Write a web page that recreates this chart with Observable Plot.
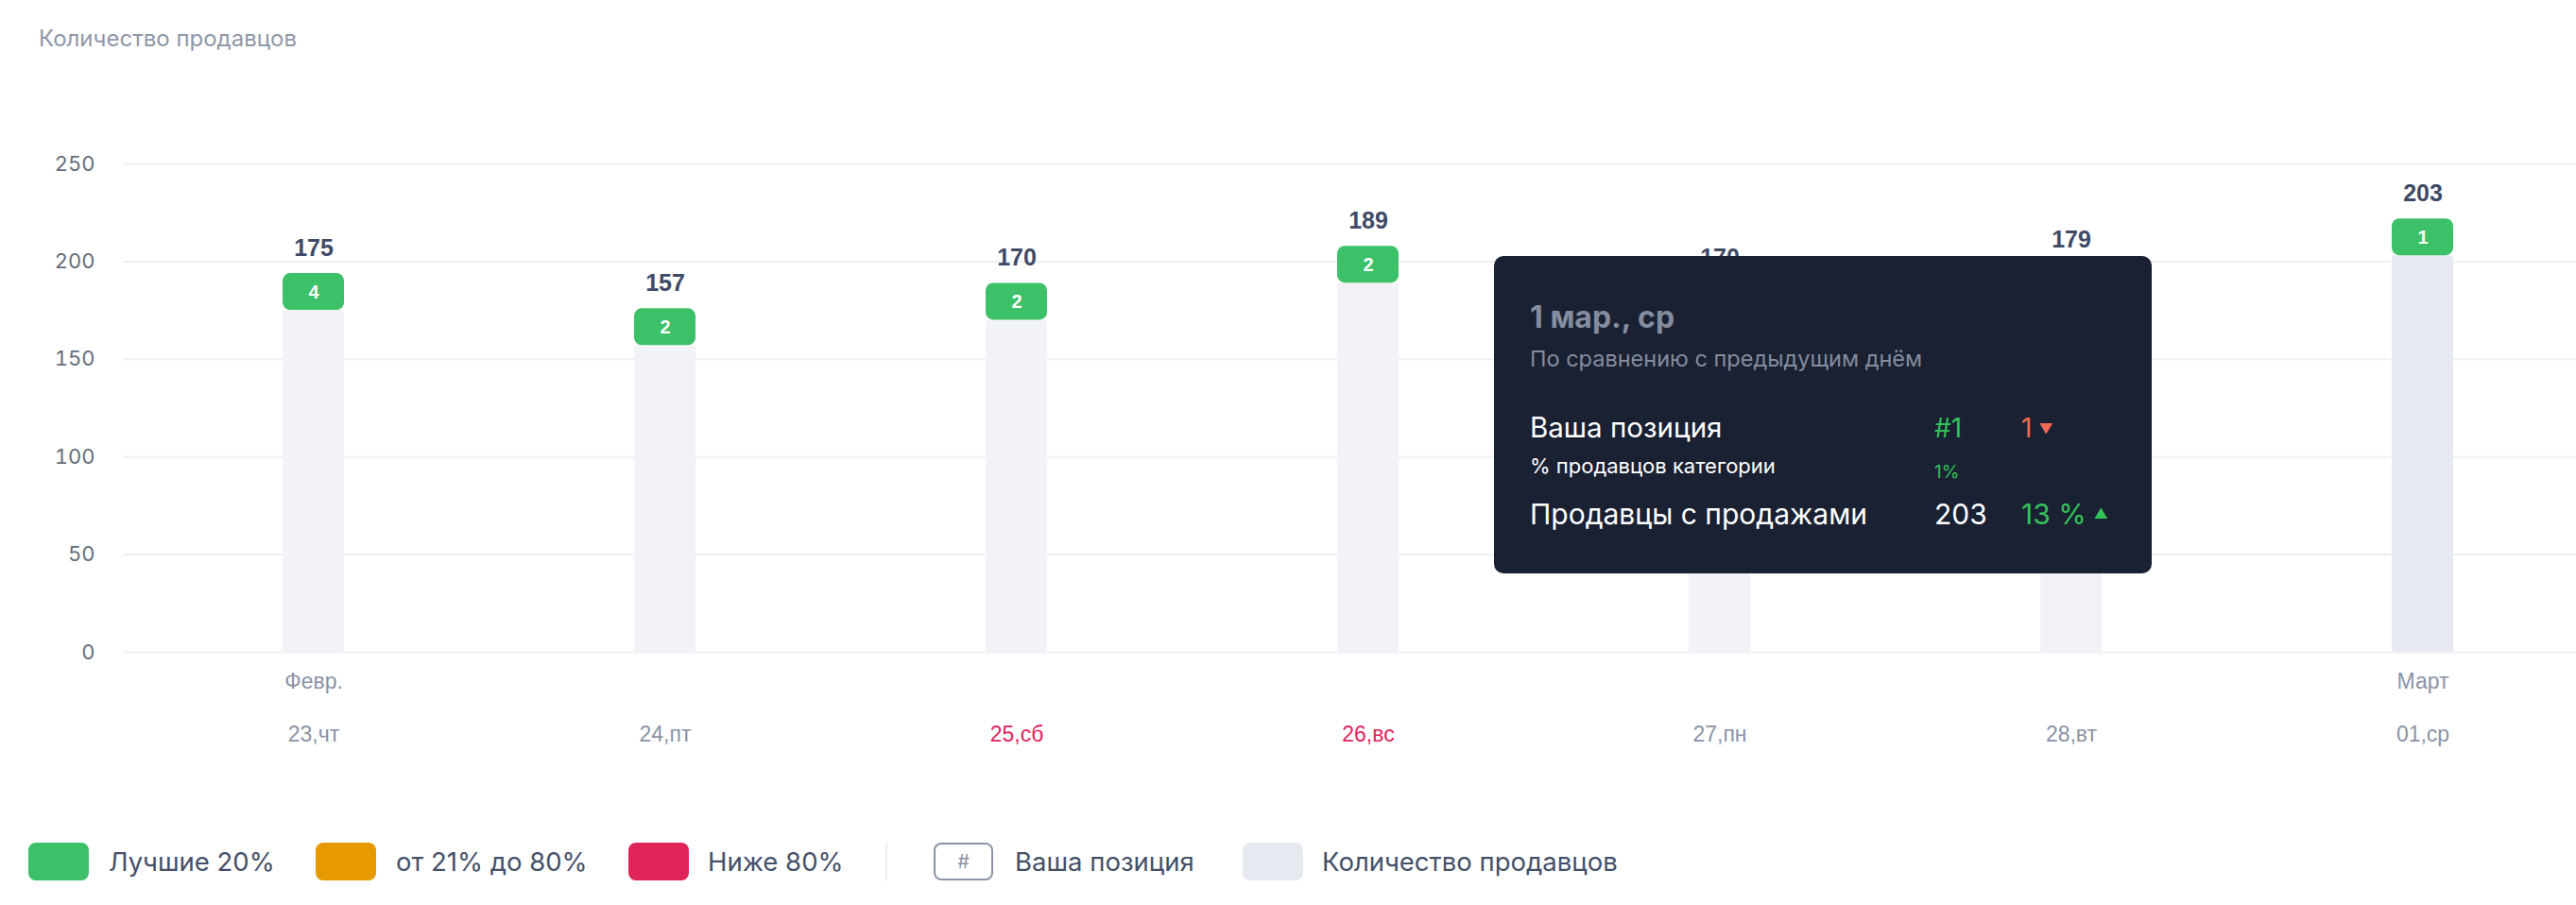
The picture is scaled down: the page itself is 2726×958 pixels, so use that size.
<!DOCTYPE html>
<html>
<head>
<meta charset="utf-8">
<script src="https://cdn.jsdelivr.net/npm/d3@7"></script>
<script src="https://cdn.jsdelivr.net/npm/@observablehq/plot@0.6"></script>
<style>
  html, body { margin: 0; padding: 0; background: #ffffff; }
  #wrap { position: relative; width: 2726px; height: 958px; overflow: hidden; font-family: Inter, "Noto Sans", sans-serif; }
  #title { position: absolute; left: 41px; top: 29px; font-size: 24px; line-height: 24px; color: #8f97a8; white-space: nowrap; }
  #chart { position: absolute; left: 0; top: 0; }
  #tooltip { position: absolute; left: 1581px; top: 271px; width: 696px; height: 336px; background: #1a2133; border-radius: 10px; }
  #tooltip div { position: absolute; line-height: 1; white-space: nowrap; }
  .leg { position: absolute; top: 892px; height: 40px; display: flex; align-items: center; font-size: 27.5px; color: #445069; white-space: nowrap; }
  .sw { position: absolute; top: 892px; width: 64px; height: 40px; border-radius: 8px; }
</style>
</head>
<body>
<div id="wrap">
  <div id="title">Количество продавцов</div>
  <div id="chart"></div>
  <div id="tooltip"></div>
  <div id="legend"></div>
</div>
<script>
// ---- data ----
const days = ["23,чт", "24,пт", "25,сб", "26,вс", "27,пн", "28,вт", "01,ср"];
const months = ["Февр.", "", "", "", "", "", "Март"];
const sellers = [175, 157, 170, 189, 170, 179, 203];
const positions = [4, 2, 2, 2, 2, 2, 1];
const groups = ["top", "top", "top", "top", "top", "top", "top"];
const weekend = [false, false, true, true, false, false, false];
const selected = [false, false, false, false, false, false, true];
const yTicks = [0, 50, 100, 150, 200, 250];

const legendLabels = ["Лучшие 20%", "от 21% до 80%", "Ниже 80%", "Ваша позиция", "Количество продавцов"];
const groupColors = {top: "#3cc169", mid: "#e69a00", low: "#e0245a"};

// tooltip values (selected day)
const tipTitle = "1 мар., ср";
const tipSubtitle = "По сравнению с предыдущим днём";
const tipRows = ["Ваша позиция", "% продавцов категории", "Продавцы с продажами"];
const tipPosition = "#1";
const tipPositionChange = "1";
const tipShare = "1%";
const tipSellers = "203";
const tipSellersChange = "13 %";

const data = days.map((d, i) => ({
  day: d, month: months[i], value: sellers[i], pos: positions[i],
  group: groups[i], weekend: weekend[i], selected: selected[i]
}));

const chart = Plot.plot({
  width: 2726,
  height: 830,
  marginLeft: 130,
  marginRight: 0,
  marginTop: 173,
  marginBottom: 140,
  style: {background: "transparent", fontFamily: "Inter, sans-serif"},
  x: {domain: days, range: [146, 2750], paddingInner: 0.825, paddingOuter: 0.4125, axis: null},
  y: {domain: [0, 250], axis: null},
  marks: [
    Plot.gridY(yTicks, {stroke: "#eef0f5", strokeOpacity: 1, strokeWidth: 2}),
    Plot.axisY(yTicks, {tickSize: 0, tickPadding: 30, fontSize: 22, color: "#666d7a", label: null, fontFamily: "Inter, sans-serif"}),
    Plot.barY(data, {x: "day", y: "value", fill: d => d.selected ? "#e6e9f0" : "#f2f3f6", rx: 4}),
    Plot.barY(data, {x: "day", y1: "value", y2: "value", insetTop: -39, fill: d => groupColors[d.group], rx: 8}),
    Plot.text(data, {x: "day", y: "value", text: d => String(d.pos), dy: -19, fill: "#ffffff", fontWeight: 700, fontSize: 20, fontFamily: "Liberation Sans, Arial, sans-serif"}),
    Plot.text(data, {x: "day", y: "value", text: d => String(d.value), dy: -66, fill: "#3e4a66", fontWeight: 700, fontSize: 25, fontFamily: "Liberation Sans, Arial, sans-serif"}),
    Plot.text(data, {x: "day", text: "month", frameAnchor: "bottom", dy: 38, fill: "#8a93a6", fontSize: 23, fontFamily: "Liberation Sans, Arial, sans-serif"}),
    Plot.text(data, {x: "day", text: "day", frameAnchor: "bottom", dy: 94, fill: d => d.weekend ? "#e0245e" : "#8a93a6", fontSize: 23, fontFamily: "Liberation Sans, Arial, sans-serif"})
  ]
});
document.getElementById("chart").appendChild(chart);

// tooltip
const tip = document.getElementById("tooltip");
function tipText(txt, left, baseline, size, color, weight) {
  const el = document.createElement("div");
  el.textContent = txt;
  el.style.left = left + "px";
  el.style.top = (baseline - 0.864 * size) + "px";
  el.style.fontSize = size + "px";
  el.style.color = color;
  if (weight) el.style.fontWeight = weight;
  tip.appendChild(el);
  return el;
}
tipText(tipTitle, 38, 77, 32, "#858c9e", 700);
tipText(tipSubtitle, 38, 117, 23.5, "#858c9e");
tipText(tipRows[0], 38, 192, 29.5, "#ffffff");
tipText(tipPosition, 466, 192, 28, "#33c15a");
const ch1 = tipText(tipPositionChange, 558, 192, 28, "#f26b55");
ch1.innerHTML = tipPositionChange + '<span style="font-size:15px;margin-left:7px;vertical-align:4px">▼</span>';
tipText(tipRows[1], 38, 230, 22, "#ffffff");
tipText(tipShare, 466, 235, 19, "#33c15a");
tipText(tipRows[2], 38, 284, 30, "#ffffff");
tipText(tipSellers, 466, 284, 30, "#ffffff");
const ch2 = tipText(tipSellersChange, 558, 284, 30, "#33c15a");
ch2.innerHTML = tipSellersChange + '<span style="font-size:15px;margin-left:8px;vertical-align:6px">▲</span>';

// legend
const legend = document.getElementById("legend");
const legendItems = [
  {sw: 30, text: 115, color: groupColors.top},
  {sw: 334, text: 419, color: groupColors.mid},
  {sw: 665, text: 749, color: groupColors.low},
  {sw: 988, text: 1074, color: null, hash: true},
  {sw: 1315, text: 1399, color: "#e6e9f0"}
];
legendItems.forEach((it, i) => {
  const sw = document.createElement("div");
  sw.className = "sw";
  sw.style.left = it.sw + "px";
  if (it.hash) {
    sw.style.boxSizing = "border-box";
    sw.style.width = "63px";
    sw.style.border = "2px solid #8a93a6";
    sw.style.display = "flex";
    sw.style.alignItems = "center";
    sw.style.justifyContent = "center";
    sw.style.fontSize = "20px";
    sw.style.color = "#8a93a6";
    sw.textContent = "#";
  } else {
    sw.style.background = it.color;
  }
  legend.appendChild(sw);
  const t = document.createElement("div");
  t.className = "leg";
  t.style.left = it.text + "px";
  t.textContent = legendLabels[i];
  legend.appendChild(t);
});
const sep = document.createElement("div");
sep.style.cssText = "position:absolute;left:937px;top:892px;width:2px;height:40px;background:#eceef2";
legend.appendChild(sep);
</script>
</body>
</html>
